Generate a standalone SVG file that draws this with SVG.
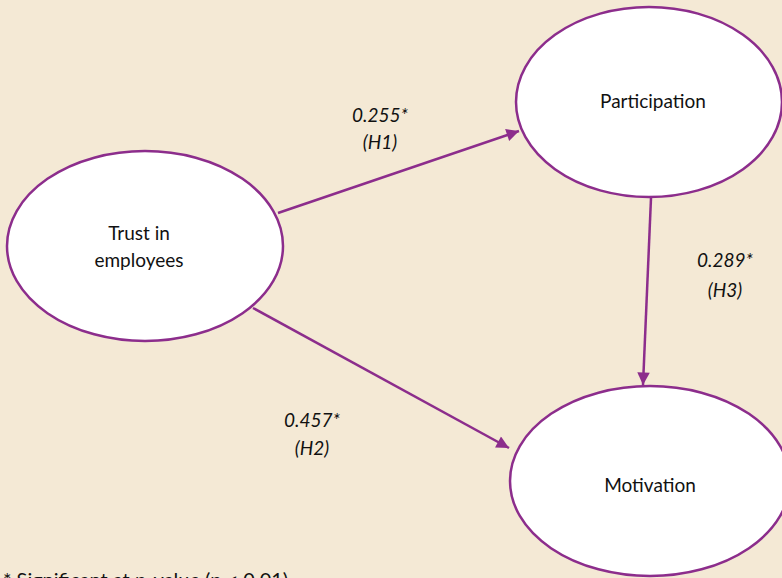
<svg xmlns="http://www.w3.org/2000/svg" width="782" height="578" viewBox="0 0 782 578">
<style>
.node{fill:#ffffff;stroke:#8c2d8c;stroke-width:2.5}
.lbl{font-family:Lato,"Liberation Sans",sans-serif;font-size:19px;fill:#111;text-anchor:middle}
.coef{font-family:Lato,"Liberation Sans",sans-serif;font-size:19px;font-style:italic;fill:#111;text-anchor:middle}
.edge{stroke:#8c2d8c;stroke-width:2.5;fill:none;marker-end:url(#arr)}
.note{font-family:Lato,"Liberation Sans",sans-serif;font-size:20px;fill:#111}
</style>
<defs>
<marker id="arr" viewBox="0 0 10 10" refX="10" refY="5" markerWidth="6" markerHeight="5" markerUnits="strokeWidth" orient="auto">
<path d="M0,0 L10,5 L0,10 z" fill="#8c2d8c"/>
</marker>
</defs>
<rect width="782" height="578" fill="#f4e9d5"/>
<g id="connectors">
<line class="edge" x1="278" y1="213" x2="519" y2="131"/>
<line class="edge" x1="253" y1="308" x2="509" y2="448"/>
<line class="edge" x1="651" y1="198" x2="643" y2="385"/>
</g>
<g id="trust">
<ellipse class="node" cx="145" cy="246" rx="138" ry="95"/>
<text class="lbl" x="139" y="240">Trust in</text>
<text class="lbl" x="139" y="267">employees</text>
</g>
<g id="participation">
<ellipse class="node" cx="649" cy="102" rx="133" ry="95"/>
<text class="lbl" x="653" y="108">Participation</text>
</g>
<g id="motivation">
<ellipse class="node" cx="650" cy="481" rx="140" ry="95"/>
<text class="lbl" x="650" y="492">Motivation</text>
</g>
<g id="labels">
<text class="coef" x="380" y="122">0.255*</text>
<text class="coef" x="380" y="149">(H1)</text>
<text class="coef" x="725" y="267">0.289*</text>
<text class="coef" x="725" y="297">(H3)</text>
<text class="coef" x="312" y="427">0.457*</text>
<text class="coef" x="312" y="455">(H2)</text>
</g>
<text class="note" x="3" y="587">* Significant at p-value (p &lt; 0.01)</text>
</svg>
